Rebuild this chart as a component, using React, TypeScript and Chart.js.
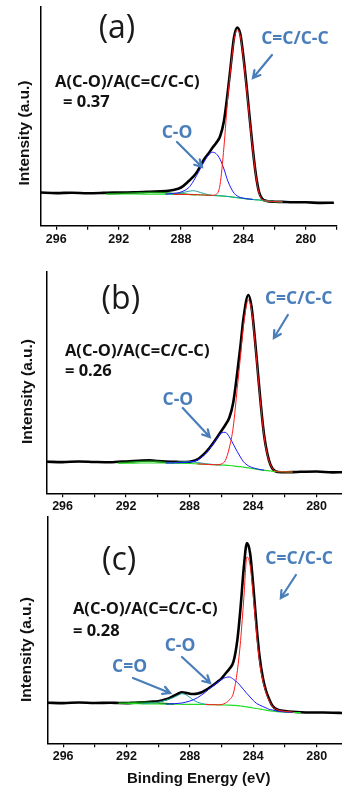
import React, { useEffect, useRef } from "react";
import { Chart, registerables } from "chart.js";

Chart.register(...registerables);

// ---------- x tick labels ----------
const xTickLabels = [296, 292, 288, 284, 280];

// ---------- panel (a) ----------
const beA = [297, 296, 295, 294, 293, 292.8, 292, 291, 290, 289, 288.5, 288, 287.5, 287.25, 287, 286.75, 286.5, 286.25, 286, 285.75, 285.5, 285.25, 285, 284.8, 284.6, 284.4, 284.2, 284, 283.8, 283.6, 283.4, 283.2, 283, 282.8, 282.5, 282, 281.5, 281, 280, 279, 278.2];
const blackA = [33.2, 32.6, 33.0, 32.5, 32.8, 32.9, 33.1, 33.4, 34.0, 34.7, 35.7, 38.2, 44.7, 48.5, 53.2, 60.0, 67.0, 72.0, 77.7, 82.7, 89.2, 104.7, 134.2, 162.4, 188.7, 198.2, 191.7, 168.7, 139.7, 107.7, 76.7, 50.7, 33.7, 27.0, 24.7, 24.0, 23.8, 23.5, 23.4, 22.8, 23.0];
const ccA = [null, null, null, null, null, null, null, null, null, null, 31.4, 31.3, 31.2, 31.1, 31.0, 30.8, 30.6, 30.4, 30.4, 31.2, 41.0, 78.7, 128.7, 159.7, 185.7, 195.7, 189.7, 166.7, 136.7, 105.7, 75.7, 49.7, 32.7, 26.5, 24.6, 24.1, 23.8, null, null, null, null];
const coA = [null, null, null, null, null, null, null, null, null, 31.6, 32.2, 33.7, 38.2, 43.5, 50.2, 57.5, 64.5, 70.5, 73.5, 72.0, 66.5, 56.7, 44.7, 37.7, 32.5, 29.8, 28.3, 27.6, 27.0, 26.6, 26.3, null, null, null, null, null, null, null, null, null, null];
const cdoA = [null, null, null, null, null, null, null, null, null, 31.6, 32.0, 32.8, 34.4, 35.0, 34.4, 33.2, 32.0, 31.0, 30.4, 30.1, 29.9, 29.6, 29.3, 28.9, 28.5, 28.1, 27.7, 27.3, 26.9, 26.6, 26.3, 26.0, 25.8, 25.4, 24.7, 24.2, 23.9, null, null, null, null];
const piA = [null, null, null, null, null, 31.8, 32.2, 32.8, 33.3, 33.0, 32.4, 31.8, 31.3, null, 31.0, null, null, null, null, null, null, null, null, null, null, null, null, null, null, null, null, null, null, null, null, null, null, null, null, null, null];
const bgA = [null, null, null, null, null, 31.7, 31.7, 31.7, 31.6, 31.5, 31.4, 31.3, 31.2, 31.1, 31.0, 30.8, 30.6, 30.4, 30.2, 30.0, 29.8, 29.5, 29.2, 28.8, 28.4, 28.0, 27.6, 27.2, 26.8, 26.5, 26.2, 25.9, 25.7, 25.3, 24.6, 24.1, 23.8, null, null, null, null];

// ---------- panel (b) ----------
const beB = [297, 296, 295, 294, 293, 292.5, 292, 291, 290.5, 290, 289.5, 289, 288.5, 288, 287.5, 287, 286.75, 286.5, 286.25, 286, 285.75, 285.5, 285.25, 285, 284.8, 284.6, 284.3, 284.1, 283.9, 283.7, 283.5, 283.3, 283.1, 282.9, 282.6, 282.2, 281.5, 281, 280, 279, 278.4];
const blackB = [31.6, 31.2, 31.8, 31.3, 31.0, 31.5, 31.8, 32.8, 33.0, 32.3, 31.8, 31.5, 31.2, 31.6, 33.9, 40.6, 45.3, 50.6, 56.3, 62.3, 68.3, 75.6, 90.9, 120.3, 146.9, 175.7, 198.3, 186.6, 156.6, 121.3, 86.3, 57.3, 39.3, 28.3, 22.0, 21.0, 21.2, 21.5, 21.8, 20.9, 21.1];
const ccB = [null, null, null, null, null, null, null, null, null, null, null, null, null, null, 29.4, 29.0, 28.8, 28.6, 28.5, 29.3, 32.8, 45.3, 66.3, 104.7, 136.0, 168.0, 193.3, 183.3, 154.3, 119.3, 85.3, 56.3, 38.3, 28.3, 22.3, 21.5, 21.3, null, null, null, null];
const coB = [null, null, null, null, null, null, null, null, null, null, 30.3, 30.4, 30.8, 31.3, 33.3, 39.5, 44.3, 49.8, 55.5, 60.3, 61.0, 56.5, 49.2, 41.8, 36.3, 31.5, 27.5, 26.0, 25.0, 24.2, 23.6, 23.1, null, null, null, null, null, null, null, null, null];
const cdoB = [null, null, null, null, null, null, null, null, null, null, 30.4, 30.8, 31.4, 31.6, 30.8, 29.6, null, 28.8, null, 28.4, null, null, null, null, null, null, null, null, null, null, null, null, null, null, null, null, null, null, null, null, null];
const piB = [null, null, null, null, null, 30.4, 31.0, 32.0, 32.2, 31.8, 31.0, 30.4, null, null, null, null, null, null, null, null, null, null, null, null, null, null, null, null, null, null, null, null, null, null, null, null, null, null, null, null, null];
const bgB = [null, null, null, null, null, 30.2, 30.2, 30.3, 30.3, 30.3, 30.3, 30.2, 30.0, 29.8, 29.4, 29.0, 28.8, 28.6, 28.5, 28.3, 28.1, 27.8, 27.4, 27.0, 26.6, 26.1, 25.4, 24.9, 24.4, 23.9, 23.4, 23.0, 22.6, 22.3, 21.9, 21.6, 21.3, null, null, null, null];

// ---------- panel (c) ----------
const beC = [297, 296, 295, 294, 293, 292.5, 292, 291.5, 291, 290.5, 290, 289.5, 289, 288.75, 288.5, 288.25, 288, 287.75, 287.5, 287.25, 287, 286.75, 286.5, 286.25, 286, 285.75, 285.5, 285.25, 285, 284.8, 284.6, 284.4, 284.2, 284, 283.8, 283.6, 283.4, 283.2, 283, 282.8, 282.5, 282, 281.5, 281, 280, 279, 278.4];
const blackC = [40.6, 40.2, 40.8, 40.3, 40.5, 40.3, 40.2, 40.6, 40.9, 41.5, 42.1, 44.0, 47.6, 49.6, 51.0, 50.4, 49.5, 49.3, 49.8, 51.0, 53.3, 55.8, 58.6, 61.6, 65.0, 69.8, 74.5, 81.6, 104.0, 136.3, 175.3, 200.3, 190.0, 157.3, 118.3, 86.3, 65.8, 52.8, 44.3, 37.8, 33.8, 32.3, 31.5, 31.1, 30.8, 30.6, 30.3];
const ccC = [null, null, null, null, null, null, null, null, null, null, null, null, null, null, null, null, null, null, null, null, 38.8, 38.7, 38.6, 38.5, 38.8, 40.3, 43.6, 50.3, 73.0, 102.8, 144.5, 186.3, 178.0, 147.0, 111.0, 81.0, 63.0, 51.0, 42.8, 37.3, 33.6, 32.0, 31.2, null, null, null, null];
const coC = [null, null, null, null, null, null, null, null, null, null, null, 39.2, 39.6, 39.9, 40.3, 41.2, 42.3, 43.8, 45.8, 48.4, 51.3, 54.8, 58.0, 61.0, 63.8, 65.8, 66.3, 64.0, 60.8, 57.3, 53.5, 49.8, 46.3, 42.8, 40.0, 38.3, 36.8, 35.5, 34.0, 33.4, 32.2, 31.3, 30.8, null, null, null, null];
const cdoC = [null, null, null, null, null, null, null, null, 39.6, 40.2, 41.2, 43.2, 46.0, 48.0, 49.6, 48.6, 45.8, 43.0, 41.0, 39.8, 39.1, 38.8, null, null, null, null, null, null, null, null, null, null, null, null, null, null, null, null, null, null, null, null, null, null, null, null, null];
const piC = [null, null, null, null, null, 40.1, 40.5, 40.9, 41.1, 41.0, 40.5, 39.8, 39.3, null, null, null, null, null, null, null, null, null, null, null, null, null, null, null, null, null, null, null, null, null, null, null, null, null, null, null, null, null, null, null, null, null, null];
const bgC = [null, null, null, null, null, 40.0, 39.8, 39.6, 39.5, 39.4, 39.3, 39.2, 39.1, 39.1, 39.0, 39.0, 38.9, 38.9, 38.9, 38.8, 38.8, 38.7, 38.6, 38.5, 38.4, 38.3, 38.1, 37.9, 37.7, 37.3, 36.9, 36.4, 35.9, 35.3, 34.8, 34.3, 33.8, 33.2, 32.6, 32.2, 31.7, 31.2, 30.8, 30.6, null, null, null];

// ---------- text ----------
const ratioLabel = "A(C-O)/A(C=C/C-C)";
const ratioValues = ["= 0.37", "= 0.26", "= 0.28"];
const panelLetters = ["(a)", "(b)", "(c)"];

const BLUE_TXT = "#4a7ebb";
const SANS = '"Open Sans", "Noto Sans", sans-serif';
const ARIAL = '"Liberation Sans", Arial, sans-serif';

type Pt = { x: number; y: number };
const pts = (be: number[], v: (number | null)[]): Pt[] =>
  be.map((x, i) => ({ x, y: v[i] as number })).filter((p) => p.y !== null && p.y !== undefined);

type Label = { text: string; x: number; y: number };
type Arrow = { x1: number; y1: number; x2: number; y2: number };

interface Panel {
  top: number;
  h: number;
  padTop: number;
  padRight: number;
  yw: number;
  xh: number;
  xmin: number;
  xmax: number;
  ymax: number;
  be: number[];
  black: (number | null)[];
  cc: (number | null)[];
  co: (number | null)[];
  cdo: (number | null)[];
  pi: (number | null)[];
  bg: (number | null)[];
  letter: Label;
  ratio: { x: number; x2: number; y1: number; y2: number; value: string };
  blue: Label[];
  arrows: Arrow[];
  yTitle: { x: number; y: number };
  xTitle?: { x: number; y: number };
}

const panels: Panel[] = [
  {
    top: 0, h: 256, padTop: 7, padRight: 5, yw: 40.7, xh: 30.3, xmin: 278, xmax: 297, ymax: 218.7,
    be: beA, black: blackA, cc: ccA, co: coA, cdo: cdoA, pi: piA, bg: bgA,
    letter: { text: panelLetters[0], x: 292.11, y: 197.2 },
    ratio: { x: 296.08, x2: 295.57, y1: 143.2, y2: 123.7, value: ratioValues[0] },
    blue: [
      { text: "C=C/C-C", x: 280.7, y: 186.2 },
      { text: "C-O", x: 288.26, y: 92.2 },
    ],
    arrows: [
      { x1: 282.17, y1: 170.7, x2: 283.39, y2: 147.7 },
      { x1: 288.26, y1: 83.7, x2: 286.66, y2: 58.7 },
    ],
    yTitle: { x: 25, y: 133 },
  },
  {
    top: 256, h: 260, padTop: 16, padRight: 0, yw: 46.7, xh: 22.7, xmin: 278.4, xmax: 297, ymax: 221.3,
    be: beB, black: blackB, cc: ccB, co: coB, cdo: cdoB, pi: piB, bg: bgB,
    letter: { text: panelLetters[1], x: 292.33, y: 193.3 },
    ratio: { x: 295.85, x2: 295.85, y1: 141.8, y2: 121.8, value: ratioValues[1] },
    blue: [
      { text: "C=C/C-C", x: 281.13, y: 193.8 },
      { text: "C-O", x: 288.74, y: 93.3 },
    ],
    arrows: [
      { x1: 281.81, y1: 178.3, x2: 282.69, y2: 155.3 },
      { x1: 288.43, y1: 85.3, x2: 286.73, y2: 56.3 },
    ],
    yTitle: { x: 28, y: 135.5 },
  },
  {
    top: 516, h: 273, padTop: 1, padRight: 0, yw: 47.3, xh: 45.7, xmin: 278.4, xmax: 297, ymax: 226.3,
    be: beC, black: blackC, cc: ccC, co: coC, cdo: cdoC, pi: piC, bg: bgC,
    letter: { text: panelLetters[2], x: 292.47, y: 182.3 },
    ratio: { x: 295.38, x2: 295.38, y1: 133.8, y2: 111.8, value: ratioValues[2] },
    blue: [
      { text: "C=C/C-C", x: 281.11, y: 183.8 },
      { text: "C-O", x: 288.62, y: 96.8 },
      { text: "C=O", x: 291.81, y: 75.8 },
    ],
    arrows: [
      { x1: 281.31, y1: 168.3, x2: 282.26, y2: 145.3 },
      { x1: 288.5, y1: 86.3, x2: 286.73, y2: 60.3 },
      { x1: 291.59, y1: 65.3, x2: 289.25, y2: 50.3 },
    ],
    yTitle: { x: 27, y: 133.5 },
    xTitle: { x: 198.7, y: 263 },
  },
];

function makeAnnotPlugin(p: Panel) {
  return {
    id: "annot",
    afterDraw(chart: any) {
      const { ctx } = chart;
      const xs = chart.scales.x;
      const ys = chart.scales.y;
      const X = (v: number) => xs.getPixelForValue(v);
      const Y = (v: number) => ys.getPixelForValue(v);
      ctx.save();
      ctx.textBaseline = "middle";
      // panel letter
      ctx.fillStyle = "#1a1a1a";
      ctx.textAlign = "center";
      ctx.font = `32px ${SANS}`;
      ctx.fillText(p.letter.text, X(p.letter.x), Y(p.letter.y));
      // ratio text
      ctx.fillStyle = "#111";
      ctx.textAlign = "left";
      ctx.font = `bold 16.5px ${SANS}`;
      ctx.fillText(ratioLabel, X(p.ratio.x), Y(p.ratio.y1));
      ctx.fillText(p.ratio.value, X(p.ratio.x2), Y(p.ratio.y2));
      // blue labels
      ctx.fillStyle = BLUE_TXT;
      ctx.textAlign = "center";
      ctx.font = `bold 17.5px ${SANS}`;
      p.blue.forEach((l) => ctx.fillText(l.text, X(l.x), Y(l.y)));
      // arrows
      ctx.strokeStyle = BLUE_TXT;
      ctx.lineWidth = 2.2;
      ctx.lineCap = "round";
      p.arrows.forEach((a) => {
        const x1 = X(a.x1), y1 = Y(a.y1), x2 = X(a.x2), y2 = Y(a.y2);
        const ang = Math.atan2(y2 - y1, x2 - x1);
        const hl = 8, ha = 0.5;
        ctx.beginPath();
        ctx.moveTo(x1, y1);
        ctx.lineTo(x2, y2);
        ctx.moveTo(x2 - hl * Math.cos(ang - ha), y2 - hl * Math.sin(ang - ha));
        ctx.lineTo(x2, y2);
        ctx.lineTo(x2 - hl * Math.cos(ang + ha), y2 - hl * Math.sin(ang + ha));
        ctx.stroke();
      });
      // y title
      ctx.fillStyle = "#111";
      ctx.font = `bold 15.5px ${ARIAL}`;
      ctx.textAlign = "center";
      ctx.save();
      ctx.translate(p.yTitle.x, p.yTitle.y);
      ctx.rotate(-Math.PI / 2);
      ctx.fillText("Intensity (a.u.)", 0, 0);
      ctx.restore();
      if (p.xTitle) {
        ctx.font = `bold 15px ${ARIAL}`;
        ctx.fillText("Binding Energy (eV)", p.xTitle.x, p.xTitle.y);
      }
      ctx.restore();
    },
  };
}

function makeChart(canvas: HTMLCanvasElement, p: Panel) {
  const line = (data: Pt[], color: string, width: number) => ({
    data,
    borderColor: color,
    borderWidth: width,
    pointRadius: 0,
    fill: false,
    cubicInterpolationMode: "monotone" as const,
  });
  return new Chart(canvas, {
    type: "line",
    data: {
      datasets: [
        line(pts(p.be, p.cc), "#ff1a1a", 1),
        line(pts(p.be, p.co), "#1a1aff", 1),
        line(pts(p.be, p.cdo), "#1f9f9f", 1),
        line(pts(p.be, p.pi), "#128a12", 1.3),
        line(pts(p.be, p.bg), "#22dd22", 1.2),
        line(pts(p.be, p.black), "#000000", 2.6),
      ],
    },
    options: {
      responsive: false,
      animation: false,
      devicePixelRatio: 1,
      layout: { padding: { left: 0, top: p.padTop, right: p.padRight, bottom: 0 } },
      plugins: { legend: { display: false }, tooltip: { enabled: false } },
      scales: {
        x: {
          type: "linear",
          reverse: true,
          min: p.xmin,
          max: p.xmax,
          afterFit: (s: any) => {
            s.height = p.xh;
          },
          grid: { display: true, drawOnChartArea: false, drawTicks: true, tickLength: 4, color: "#000", lineWidth: 1.2 },
          border: { display: true, color: "#000", width: 1.5 },
          ticks: {
            stepSize: 2,
            includeBounds: false,
            autoSkip: false,
            maxRotation: 0,
            padding: 2,
            color: "#111",
            font: { family: ARIAL, size: 12.5, weight: "bold" },
            callback: (v: any) => (xTickLabels.includes(Number(v)) ? String(v) : ""),
          },
        },
        y: {
          min: 0,
          max: p.ymax,
          afterFit: (s: any) => {
            s.width = p.yw;
          },
          ticks: { display: false },
          grid: { display: false },
          border: { display: true, color: "#000", width: 1.5 },
        },
      },
    } as any,
    plugins: [makeAnnotPlugin(p)],
  });
}

export default function App() {
  const r0 = useRef<HTMLCanvasElement>(null);
  const r1 = useRef<HTMLCanvasElement>(null);
  const r2 = useRef<HTMLCanvasElement>(null);
  useEffect(() => {
    const refs = [r0, r1, r2];
    const charts = panels.map((p, i) => makeChart(refs[i].current as HTMLCanvasElement, p));
    return () => charts.forEach((c) => c.destroy());
  }, []);
  const refs = [r0, r1, r2];
  return (
    <div style={{ position: "absolute", left: 0, top: 0, width: 342, height: 789, background: "#fff", overflow: "hidden" }}>
      {panels.map((p, i) => (
        <canvas
          key={i}
          ref={refs[i]}
          width={342}
          height={p.h}
          style={{ position: "absolute", left: 0, top: p.top, width: 342, height: p.h, display: "block" }}
        />
      ))}
    </div>
  );
}
